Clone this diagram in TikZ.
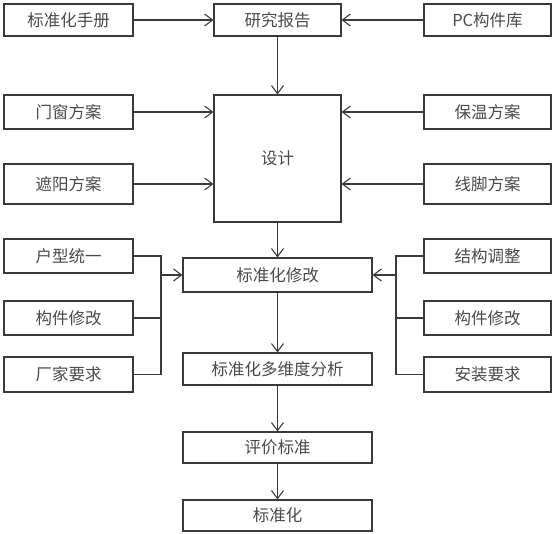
\documentclass[tikz,border=0pt]{standalone}
\usepackage{fontspec}
\setmainfont{Noto Sans CJK SC}
\usetikzlibrary{arrows.meta}
\definecolor{ln}{HTML}{3A3A3A}
\definecolor{tx}{HTML}{4A4A4A}
\tikzset{
  box/.style={draw=ln, line width=1.1pt, inner sep=0pt, text=tx, font=\fontsize{16.5pt}{18pt}\selectfont, anchor=center},
  arr/.style={draw=ln, line width=1.1pt, -{Straight Barb[length=8pt,width=12pt,line width=1.1pt]}},
  ln/.style={draw=ln, line width=1.1pt},
}
\begin{document}
\begin{tikzpicture}[x=1pt,y=-1pt]
\useasboundingbox (0,0) rectangle (554,534);
% left column
\node[box, minimum width=129pt, minimum height=32pt] (sc) at (68.5,20) {标准化手册};
\node[box, minimum width=129pt, minimum height=34pt] (mc) at (68.5,112) {门窗方案};
\node[box, minimum width=129pt, minimum height=40pt] (zy) at (68.5,184) {遮阳方案};
\node[box, minimum width=129pt, minimum height=34pt] (hx) at (68.5,256) {户型统一};
\node[box, minimum width=129pt, minimum height=34pt] (gj1) at (68.5,318) {构件修改};
\node[box, minimum width=129pt, minimum height=35pt] (cj) at (68.5,374.5) {厂家要求};
% right column
\node[box, minimum width=127pt, minimum height=32pt] (pc) at (487.5,20) {PC构件库};
\node[box, minimum width=127pt, minimum height=34pt] (bw) at (487.5,112) {保温方案};
\node[box, minimum width=127pt, minimum height=40pt] (xj) at (487.5,184) {线脚方案};
\node[box, minimum width=127pt, minimum height=34pt] (jg) at (487.5,256) {结构调整};
\node[box, minimum width=127pt, minimum height=34pt] (gj2) at (487.5,318) {构件修改};
\node[box, minimum width=127pt, minimum height=35pt] (az) at (487.5,374.5) {安装要求};
% center column
\node[box, minimum width=127pt, minimum height=32pt] (yj) at (277.5,20) {研究报告};
\node[box, minimum width=127pt, minimum height=127pt] (sj) at (277.5,158.5) {设计};
\node[box, minimum width=189pt, minimum height=34pt] (xg) at (277.5,275) {标准化修改};
\node[box, minimum width=189pt, minimum height=32pt] (fx) at (277.5,369) {标准化多维度分析};
\node[box, minimum width=189pt, minimum height=31pt] (pj) at (277.5,447.5) {评价标准};
\node[box, minimum width=189pt, minimum height=31pt] (bz) at (277.5,515.5) {标准化};
% coordinates for buses
\coordinate (lb) at (161,275);
\coordinate (rb) at (396,275);
% arrows
\draw[arr] (sc.east) -- (yj.west);
\draw[arr] (pc.west) -- (yj.east);
\draw[arr] (yj.south) -- (sj.north);
\draw[arr] (mc.east) -- (mc.east -| sj.west);
\draw[arr] (zy.east) -- (zy.east -| sj.west);
\draw[arr] (bw.west) -- (bw.west -| sj.east);
\draw[arr] (xj.west) -- (xj.west -| sj.east);
\draw[arr] (sj.south) -- (xg.north);
\draw[arr] (xg.south) -- (fx.north);
\draw[arr] (fx.south) -- (pj.north);
\draw[arr] (pj.south) -- (bz.north);
% left bus
\draw[ln] (hx.east) -| (lb);
\draw[ln] (gj1.east) -- (gj1.east -| lb);
\draw[ln] (cj.east) -| (lb);
\draw[arr] (lb) -- (xg.west);
% right bus
\draw[ln] (jg.west) -| (rb);
\draw[ln] (gj2.west) -- (gj2.west -| rb);
\draw[ln] (az.west) -| (rb);
\draw[arr] (rb) -- (xg.east);
\end{tikzpicture}
\end{document}
